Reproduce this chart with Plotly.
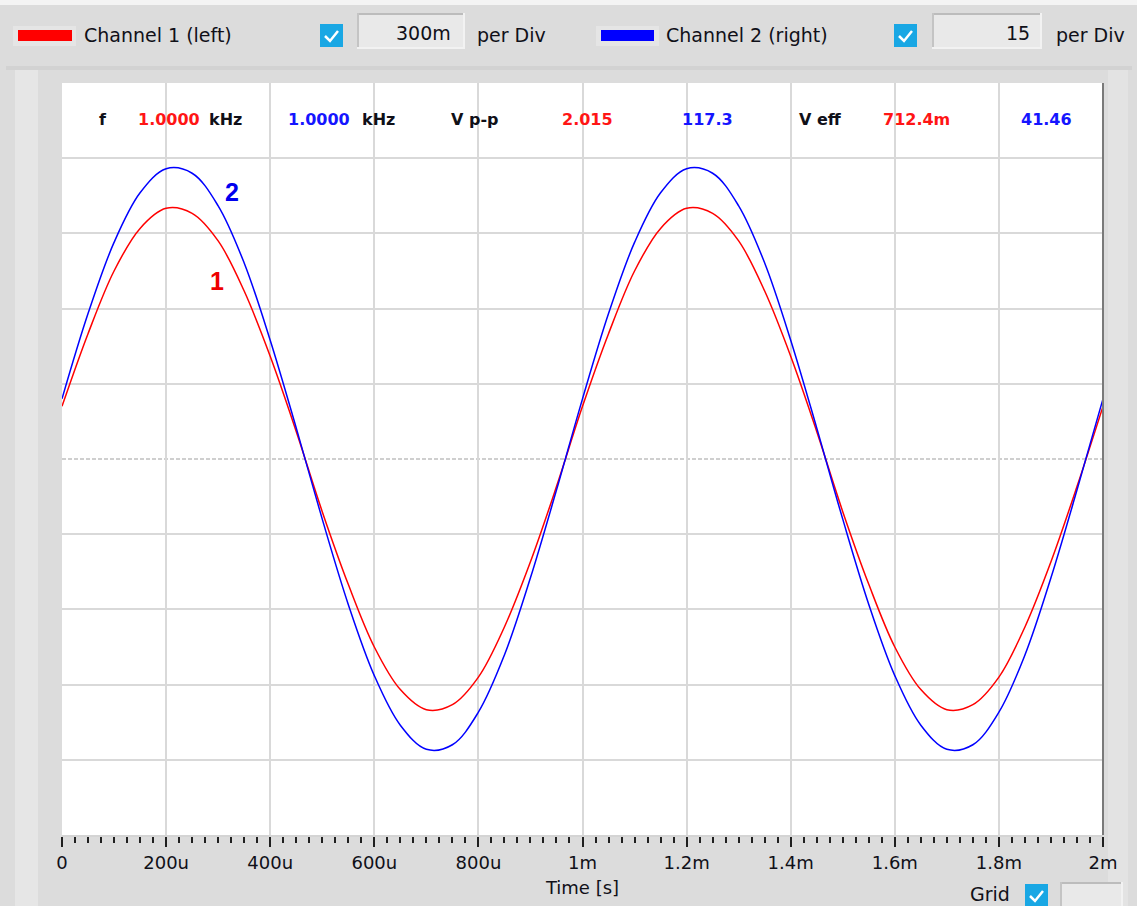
import plotly.graph_objects as go

# ---------------- data ----------------
time_us = [0, 50, 100, 150, 200, 250, 300, 350, 400, 450, 500, 550, 600, 650, 700, 750,
           800, 850, 900, 950, 1000, 1050, 1100, 1150, 1200, 1250, 1300, 1350, 1400, 1450,
           1500, 1550, 1600, 1650, 1700, 1750, 1800, 1850, 1900, 1950, 2000]
ch1_volts = [0.21, 0.50, 0.75, 0.92, 1.00, 0.98, 0.87, 0.67, 0.41, 0.11,
             -0.21, -0.50, -0.75, -0.92, -1.00, -0.98, -0.87, -0.67, -0.41, -0.11,
             0.21, 0.50, 0.75, 0.92, 1.00, 0.98, 0.87, 0.67, 0.41, 0.11,
             -0.21, -0.50, -0.75, -0.92, -1.00, -0.98, -0.87, -0.67, -0.41, -0.11, 0.21]
ch2_values = [12.0, 29.0, 43.2, 53.1, 57.9, 57.0, 50.5, 39.1, 23.7, 6.2,
              -12.0, -29.0, -43.2, -53.1, -57.9, -57.0, -50.5, -39.1, -23.7, -6.2,
              12.0, 29.0, 43.2, 53.1, 57.9, 57.0, 50.5, 39.1, 23.7, 6.2,
              -12.0, -29.0, -43.2, -53.1, -57.9, -57.0, -50.5, -39.1, -23.7, -6.2, 12.0]

x_tick_us = [0, 200, 400, 600, 800, 1000, 1200, 1400, 1600, 1800, 2000]
x_tick_text = ["0", "200u", "400u", "600u", "800u", "1m", "1.2m", "1.4m", "1.6m", "1.8m", "2m"]
ch1_per_div = 0.3
ch2_per_div = 15
ch1_per_div_text = "300m"
ch2_per_div_text = "15"

info_texts = ["f", "1.0000", "kHz", "1.0000", "kHz", "V p-p", "2.015", "117.3", "V eff", "712.4m", "41.46"]
info_roles = ["k", "r", "k", "b", "k", "k", "r", "b", "k", "r", "b"]

# ---------------- layout helpers ----------------
W, H = 1137, 906
L, R, T, B = 62, 1103, 83, 835
FONT = "DejaVu Sans"
RED = "#ff0000"
BLUE = "#0000ff"
TXT = "#101018"
role_color = {"k": TXT, "r": "#ff1515", "b": "#1515ff"}


def px(x):
    return (x - L) / (R - L)


def py(y):
    return (B - y) / (B - T)


shapes = []
annotations = []


def rect(x0, y0, x1, y1, fill, line=None, lw=1):
    shapes.append(dict(type="rect", xref="paper", yref="paper",
                       x0=px(x0), x1=px(x1), y0=py(y1), y1=py(y0),
                       fillcolor=fill, line=dict(color=line or fill, width=lw if line else 0),
                       layer="below"))


def hline(x0, x1, y, color, w=1, layer="above"):
    shapes.append(dict(type="line", xref="paper", yref="paper",
                       x0=px(x0), x1=px(x1), y0=py(y), y1=py(y),
                       line=dict(color=color, width=w), layer=layer))


def vline(x, y0, y1, color, w=1, layer="above"):
    shapes.append(dict(type="line", xref="paper", yref="paper",
                       x0=px(x), x1=px(x), y0=py(y0), y1=py(y1),
                       line=dict(color=color, width=w), layer=layer))


def text(x, y, s, size=19, color=TXT, anchor="left", bold=False, family=FONT):
    annotations.append(dict(xref="paper", yref="paper", x=px(x), y=py(y), text=s,
                            showarrow=False, xanchor=anchor, yanchor="middle",
                            font=dict(family=family, size=size, color=color,
                                      weight="bold" if bold else "normal")))


def checkbox(x0, y0, size=23):
    rect(x0, y0, x0 + size, y0 + size, "#19a7e4")
    pts = [(x0 + 5, y0 + 12), (x0 + 10, y0 + 17), (x0 + 18, y0 + 7)]
    path = "M {} {} L {} {} L {} {}".format(*[v for p in pts for v in (px(p[0]), py(p[1]))])
    shapes.append(dict(type="path", xref="paper", yref="paper", path=path,
                       line=dict(color="white", width=2.5), layer="above"))


def textbox(x0, y0, x1, y1):
    rect(x0, y0, x1, y1, "#e9e9e9")
    hline(x0, x1, y0 + 1, "#bcbcbc", 2, "below")
    vline(x0 + 1, y0, y1, "#c4c4c4", 2, "below")
    hline(x0, x1, y1 - 1, "#f2f2f2", 2, "below")
    vline(x1 - 1, y0, y1, "#f2f2f2", 2, "below")


# ---------------- panel decoration ----------------
rect(0, 0, W, 5, "#f4f4f4")
rect(15, 67, 38, H, "#e6e6e6")
rect(1108, 67, 1128, H, "#e3e3e3")
rect(6, 66, 1132, 70, "#d2d2d2")

# top control bar
rect(13, 26, 76, 46, "#e5e5e5")
rect(18, 30, 72, 41, RED)
text(82, 35, "Channel 1 (left)")
checkbox(320, 24)
textbox(357, 13, 465, 49)
text(453, 33, ch1_per_div_text, anchor="right")
text(475, 35, "per Div")

rect(596, 26, 659, 46, "#e5e5e5")
rect(601, 30, 654, 41, BLUE)
text(664, 35, "Channel 2 (right)")
checkbox(894, 24)
textbox(932, 13, 1042, 49)
text(1032, 33, ch2_per_div_text, anchor="right")
text(1054, 35, "per Div")

# bottom right controls
text(1012, 894, "Grid", anchor="right")
checkbox(1025, 884)
textbox(1060, 882, 1123, 912)

# info row
info_x = [97, 136, 207, 286, 360, 449, 560, 680, 797, 881, 1019]
for xx, s, role in zip(info_x, info_texts, info_roles):
    text(xx, 120, s, size=16, color=role_color[role], bold=True)

# trace labels
text(232, 192, "2", size=25, color="#0000ee", anchor="center", bold=True, family="Liberation Sans")
text(217, 281, "1", size=25, color="#ee0000", anchor="center", bold=True, family="Liberation Sans")

# center dashed reference line
shapes.append(dict(type="line", xref="paper", yref="y", x0=0, x1=1, y0=0, y1=0,
                   line=dict(color="#cfcfcf", width=2, dash="4px,2px"), layer="below"))
# right border
vline(R, T, B, "#7a7a7a", 2)

# ---------------- figure ----------------
t_sec = [t * 1e-6 for t in time_us]
fig = go.Figure()
fig.add_trace(go.Scatter(x=t_sec, y=ch1_volts, mode="lines", name="Channel 1 (left)",
                         line=dict(color=RED, width=1.5, shape="spline"), yaxis="y"))
fig.add_trace(go.Scatter(x=t_sec, y=ch2_values, mode="lines", name="Channel 2 (right)",
                         line=dict(color=BLUE, width=1.5, shape="spline"), yaxis="y2"))

grid_vals = [k * ch1_per_div for k in (-4, -3, -2, -1, 1, 2, 3, 4)]

fig.update_layout(
    width=W, height=H, autosize=False,
    margin=dict(l=L, r=W - R, t=T, b=H - B, pad=0),
    paper_bgcolor="#dcdcdc", plot_bgcolor="white",
    showlegend=False,
    font=dict(family=FONT, size=18, color=TXT),
    xaxis=dict(range=[0, 2e-3], tickmode="array",
               tickvals=[v * 1e-6 for v in x_tick_us], ticktext=x_tick_text,
               ticks="outside", ticklen=10, tickwidth=2, tickcolor="#202020",
               showgrid=True, gridcolor="#d9d9d9", gridwidth=2,
               showline=True, linecolor="#d4d4d4", linewidth=2,
               zeroline=False, tickfont=dict(size=18, color=TXT),
               title=dict(text="Time [s]", font=dict(size=18, color=TXT), standoff=10),
               minor=dict(dtick=2.5e-5, tick0=0, ticks="outside", ticklen=6,
                          tickwidth=1.5, tickcolor="#202020", showgrid=False),
               fixedrange=True),
    yaxis=dict(range=[-5 * ch1_per_div, 5 * ch1_per_div], tickmode="array",
               tickvals=grid_vals, showticklabels=False, ticks="",
               showgrid=True, gridcolor="#d9d9d9", gridwidth=2,
               zeroline=False, showline=False),
    yaxis2=dict(range=[-5 * ch2_per_div, 5 * ch2_per_div], overlaying="y", side="right",
                showgrid=False, showticklabels=False, ticks="", zeroline=False,
                showline=False),
    shapes=shapes,
    annotations=annotations,
)

fig.write_html("out.html", config={"displayModeBar": False},
               post_script="document.body.style.margin='0px';document.body.style.overflow='hidden';")
